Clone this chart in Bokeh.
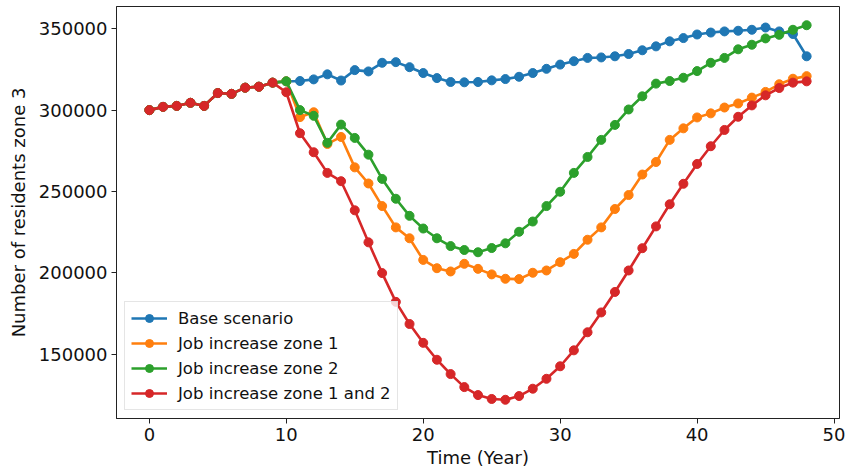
from bokeh.plotting import figure
from bokeh.models import FixedTicker, BasicTickFormatter, Range1d, Legend
from bokeh.embed import file_html
from bokeh.resources import INLINE

years = list(range(49))

common = [300000, 302000, 302600, 304500, 302600, 310500, 310000, 313800, 314400, 316900]

base = common + [317700, 317900, 318900, 322000, 318200, 324600, 323800, 329100, 329500, 326400,
                 322800, 319700, 317300, 317100, 317300, 318300, 319100, 320500, 322800, 325400,
                 328000, 330100, 332100, 332400, 333100, 334500, 336800, 339200, 342300, 344300,
                 346500, 347700, 348400, 348800, 349400, 350800, 348400, 346800, 333100]

job1 = common + [317700, 295700, 298700, 279200, 283500, 264800, 254900, 241000, 227900, 221200,
                 207900, 202800, 200800, 205500, 202400, 199000, 196300, 196100, 200000, 201400,
                 206500, 211600, 220300, 227900, 239200, 247800, 260400, 268100, 281700, 288800,
                 295500, 298000, 301600, 304100, 307700, 311200, 315900, 319300, 320900]

job2 = common + [317700, 300000, 296500, 279900, 291100, 282900, 272600, 257700, 245500, 235000,
                 227200, 221200, 216400, 214000, 212600, 215200, 218100, 225200, 231500, 241000,
                 249800, 261400, 271200, 281700, 290900, 300400, 308500, 316300, 317900, 319900,
                 324000, 329100, 332100, 337400, 340200, 344100, 346300, 349400, 352200]

job12 = common + [311000, 285800, 274100, 261400, 256300, 238400, 218700, 199800, 182100, 168500,
                  156900, 146500, 137700, 129700, 124800, 122400, 121900, 124200, 128700, 134800,
                  142500, 152300, 163400, 175600, 188200, 201400, 215100, 228500, 242100, 254700,
                  266900, 277800, 287800, 295900, 302900, 309100, 313600, 316900, 317700]

labels = ["Base scenario", "Job increase zone 1", "Job increase zone 2", "Job increase zone 1 and 2"]
colors = ["#1f77b4", "#ff7f0e", "#2ca02c", "#d62728"]
series = [base, job1, job2, job12]

x_ticks = [0, 10, 20, 30, 40, 50]
y_ticks = [150000, 200000, 250000, 300000, 350000]

allv = [v for s in series for v in s]
ymin, ymax = min(allv), max(allv)
ypad = 0.05 * (ymax - ymin)
xpad = 0.05 * (max(years) - min(years))

p = figure(width=848, height=470, output_backend="svg", toolbar_location=None,
           x_range=Range1d(min(years) - xpad, max(years) + xpad),
           y_range=Range1d(ymin - ypad, ymax + ypad),
           min_border_left=116, min_border_right=9, min_border_top=6, min_border_bottom=49)

FONT = "DejaVu Sans"
p.xgrid.visible = False
p.ygrid.visible = False
p.outline_line_color = "#222222"
p.outline_line_width = 1
p.background_fill_color = "white"
p.border_fill_color = "white"

for ax in (p.xaxis[0], p.yaxis[0]):
    ax.axis_line_color = "#222222"
    ax.major_tick_line_color = "#222222"
    ax.major_tick_out = 5
    ax.major_tick_in = 0
    ax.minor_tick_out = 0
    ax.minor_tick_in = 0
    ax.major_label_text_font = FONT
    ax.major_label_text_font_size = "18px"
    ax.major_label_text_color = "#111111"
    ax.axis_label_text_font = FONT
    ax.axis_label_text_font_size = "18px"
    ax.axis_label_text_font_style = "normal"
    ax.axis_label_text_color = "#111111"
    ax.major_label_standoff = 4

p.xaxis.ticker = FixedTicker(ticks=x_ticks)
p.yaxis.ticker = FixedTicker(ticks=y_ticks)
p.yaxis.formatter = BasicTickFormatter(use_scientific=False)
p.xaxis.axis_label = "Time (Year)"
p.yaxis.axis_label = "Number of residents zone 3"
p.xaxis.axis_label_standoff = 3
p.yaxis.axis_label_standoff = 7

items = []
for s, c, lab in zip(series, colors, labels):
    r1 = p.line(years, s, line_color=c, line_width=2.6)
    r2 = p.scatter(years, s, size=9, fill_color=c, line_color=c, marker="circle")
    items.append((lab, [r1, r2]))

legend = Legend(items=items, location="bottom_left")
legend.label_text_font = FONT
legend.label_text_font_size = "16.5px"
legend.label_text_color = "#111111"
legend.glyph_width = 36
legend.glyph_height = 20
legend.label_height = 20
legend.label_standoff = 11
legend.spacing = 5
legend.padding = 6
legend.margin = 8
legend.border_line_color = "#cccccc"
legend.border_line_width = 1
legend.background_fill_alpha = 0.8
p.add_layout(legend, "center")

open("out.html", "w").write(file_html(p, INLINE))
